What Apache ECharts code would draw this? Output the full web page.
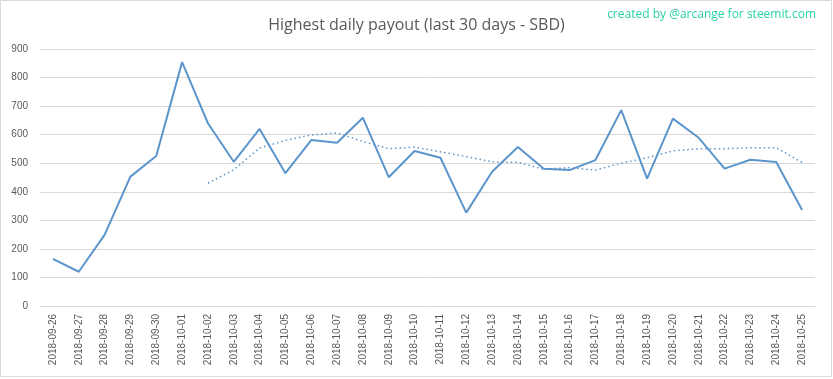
<!DOCTYPE html>
<html><head><meta charset="utf-8">
<script src="https://cdn.jsdelivr.net/npm/echarts@6/dist/echarts.min.js"></script>
<style>html,body{margin:0;padding:0;background:#fff}#c{width:833px;height:379px}</style>
</head><body><div id="c"></div>
<script>
const categories = ["2018-09-26","2018-09-27","2018-09-28","2018-09-29","2018-09-30","2018-10-01","2018-10-02","2018-10-03","2018-10-04","2018-10-05","2018-10-06","2018-10-07","2018-10-08","2018-10-09","2018-10-10","2018-10-11","2018-10-12","2018-10-13","2018-10-14","2018-10-15","2018-10-16","2018-10-17","2018-10-18","2018-10-19","2018-10-20","2018-10-21","2018-10-22","2018-10-23","2018-10-24","2018-10-25"];
const payout = [165,120,249,453,525,854,640,505,620,465,581,572,659,451,543,519,327,470,557,481,476,511,686,446,656,589,481,512,504,336];
const trend = [null,null,null,null,null,null,430,477,553,580,599,606,576,551,556,540,523,505,503,479,484,476,500,519,543,551,551,554,554,503];
const yTicks = [0,100,200,300,400,500,600,700,800,900];
const title = "Highest daily payout (last 30 days - SBD)";
const credit = "created by @arcange for steemit.com";

const chart = echarts.init(document.getElementById('c'), null, {renderer:'canvas'});
chart.setOption({
  animation:false,
  backgroundColor:'#fff',
  title:{text:title,left:'center',top:12,textStyle:{fontFamily:'Open Sans',fontWeight:'normal',fontSize:16,color:'#595959'}},
  graphic:[
    {type:'rect',shape:{x:0.5,y:0.5,width:831,height:376},style:{fill:'none',stroke:'#d9d9d9',lineWidth:1},silent:true},
    {type:'text',right:17,top:9,style:{text:credit,fontFamily:'Open Sans',fontSize:12,fill:'#27d3a6'}}
  ],
  grid:{left:40,right:18,top:49,bottom:73,containLabel:false},
  xAxis:{type:'category',data:categories,boundaryGap:true,
    axisLine:{lineStyle:{color:'#d9d9d9'}},axisTick:{show:false},
    axisLabel:{rotate:90,interval:0,fontSize:10,color:'#595959',fontFamily:'Liberation Sans',margin:8}},
  yAxis:{type:'value',min:yTicks[0],max:yTicks[yTicks.length-1],interval:100,
    axisLine:{show:false},axisTick:{show:false},
    splitLine:{lineStyle:{color:'#d9d9d9'}},
    axisLabel:{fontSize:10,color:'#595959',fontFamily:'Liberation Sans',margin:12}},
  series:[
    {type:'line',data:payout,symbol:'none',lineStyle:{color:'#5b95cb',width:2}},
    {type:'line',data:trend,symbol:'none',lineStyle:{color:'#5b95cb',width:1.5,type:[1.5,3]}}
  ]
});
</script></body></html>
